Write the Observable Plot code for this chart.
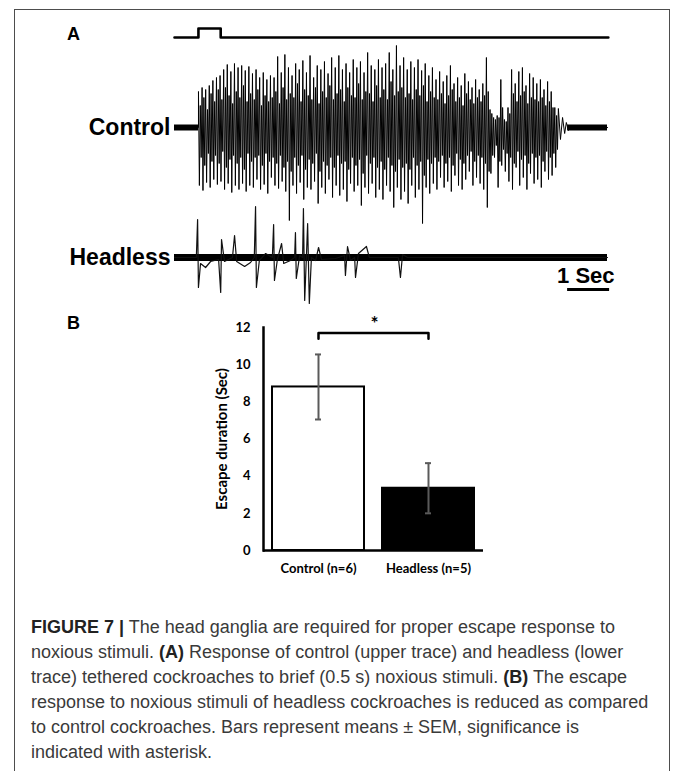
<!DOCTYPE html>
<html><head><meta charset="utf-8">
<script src="https://cdn.jsdelivr.net/npm/d3@7"></script>
<script src="https://cdn.jsdelivr.net/npm/@observablehq/plot@0.6"></script>
<style>
body{margin:0;background:#fff;}
#fig{position:relative;width:673px;height:771px;overflow:hidden;background:#fff;font-family:"Liberation Sans",Arial,sans-serif;}
#border{position:absolute;left:14px;top:9px;width:654px;height:800px;border:1px solid #4d4d4d;border-bottom:none;}
.panel{position:absolute;font-weight:bold;font-size:18px;line-height:18px;color:#000;}
#caption{position:absolute;left:31px;top:615px;font-size:18px;line-height:25px;color:#3a3a3a;white-space:nowrap;}
#caption b{color:#222;}
</style></head>
<body><div id="fig"><div id="border"></div>
<div class="panel" style="left:67px;top:25px;">A</div>
<div class="panel" style="left:67px;top:314px;">B</div>
<div id="caption">
<div><b>FIGURE 7 |</b> The head ganglia are required for proper escape response to</div>
<div>noxious stimuli. <b>(A)</b> Response of control (upper trace) and headless (lower</div>
<div>trace) tethered cockroaches to brief (0.5 s) noxious stimuli. <b>(B)</b> The escape</div>
<div>response to noxious stimuli of headless cockroaches is reduced as compared</div>
<div>to control cockroaches. Bars represent means ± SEM, significance is</div>
<div>indicated with asterisk.</div>
</div>
</div>
<script>
// ---------- Panel A data (time in seconds, amplitude in arbitrary units) ----------
const traceEnd = 10.31;
const stimTimes  = [0, 0.57, 0.57, 1.1, 1.1, 10.33];
const stimLevels = [0, 0, 1, 1, 0, 0];

const controlStart = 0.571;     // burst onset (s)
const spikeInterval = 0.0857;   // spacing between successive large spikes (s)
const controlTops = [36,40,38,42,47,50,52,58,63,56,64,60,62,57,61,54,58,50,55,48,
  52,50,71,55,73,60,52,64,58,67,55,72,50,62,58,66,54,70,60,72,
  58,64,55,68,60,66,55,75,62,58,68,60,64,75,58,82,62,70,58,66,
  60,68,57,64,52,60,48,56,46,52,62,44,50,42,54,46,40,48,38,44,
  70,18,10,12,48,8,20,58,44,56,60,42,54,50,44,48,38,46,36,20];
const controlTroughs = [-58,-63,-55,-60,-52,-57,-54,-62,-56,-65,-58,-62,-56,-64,-58,-60,-52,-62,-57,-66,
  -50,-58,-61,-54,-64,-93,-58,-66,-55,-72,-60,-62,-54,-76,-60,-66,-52,-70,-58,-68,
  -62,-74,-56,-64,-58,-78,-60,-66,-56,-70,-62,-72,-58,-64,-80,-60,-72,-64,-76,-58,
  -70,-62,-96,-60,-66,-56,-62,-50,-60,-54,-64,-48,-58,-62,-52,-44,-58,-50,-56,-62,
  -80,-46,-30,-60,-38,-44,-54,-62,-40,-58,-50,-62,-46,-56,-52,-60,-44,-52,-48,-40];
// smaller interleaved spikes between the large ones
const controlRebounds = [22,30,18,34,26,38,28,40,32,24,36,30,42,26,34,28,38,22,32,26,
  30,36,24,40,28,34,30,44,26,38,32,28,40,24,36,30,42,28,34,38,
  26,40,32,30,44,28,36,34,26,42,30,38,28,46,32,36,40,30,34,28,
  38,32,42,26,36,30,28,34,24,32,38,26,30,22,34,28,24,30,26,32,
  36,14,8,10,20,6,14,34,26,32,36,24,30,28,26,30,22,26,20,12];
const controlDips = [-30,-38,-26,-34,-28,-36,-24,-40,-32,-28,-36,-30,-42,-26,-34,-30,-28,-38,-26,-34,
  -30,-36,-28,-40,-34,-44,-30,-38,-28,-42,-32,-36,-26,-44,-34,-38,-30,-40,-28,-36,
  -34,-42,-30,-38,-32,-46,-28,-36,-30,-40,-34,-42,-30,-38,-44,-32,-40,-36,-42,-30,
  -38,-34,-48,-32,-36,-30,-34,-28,-36,-30,-38,-26,-32,-36,-28,-24,-34,-28,-30,-36,
  -44,-28,-18,-34,-22,-26,-30,-36,-24,-32,-28,-36,-26,-30,-28,-34,-24,-30,-26,-22];
const controlTailTimes  = [9.14, 9.19, 9.24, 9.29, 9.33, 9.38, 9.43, 10.31];
const controlTailValues = [19, -12, 10, -6, 5, -3, 0, 0];
const controlRest = [{start: 0, end: 0.571}, {start: 9.36, end: 10.31}];

const headlessTimes = [0,0.52,0.55,0.57,0.62,0.74,0.86,1.05,1.10,1.12,1.19,1.38,1.43,1.48,1.67,1.81,1.90,1.93,1.95,
  2.02,2.17,2.33,2.36,2.38,2.45,2.55,2.60,2.76,2.86,2.88,2.90,2.98,3.05,3.07,3.10,3.14,3.17,3.21,3.26,
  3.36,3.43,3.50,3.83,4.05,4.07,4.12,4.19,4.29,4.31,4.38,4.57,4.64,5.33,5.38,5.43,5.55,10.31];
const headlessValues = [0,0,38,-30,-6,-10,-4,-2,-35,18,-4,0,22,-4,-9,-5,0,51,-30,
  -3,4,0,33,-23,-2,14,-6,-3,0,25,-21,2,0,49,-43,0,34,-46,0,
  -3,10,-2,-1,2,-18,11,-3,0,-20,4,11,0,0,-20,3,0,0];
const scaleBarStart = 9.36, scaleBarSeconds = 1;

// ---------- Panel B data ----------
const groups = ["Control (n=6)", "Headless (n=5)"];
const means  = [8.8, 3.35];
const sems   = [1.75, 1.35];
const yTicks = [0, 2, 4, 6, 8, 10, 12];
const yLabel = "Escape duration (Sec)";
const sigMark = "*";

// ---------- build ----------
const fig = document.getElementById("fig");
const abs = (top) => ({position: "absolute", left: "0px", top: top + "px", overflow: "visible", background: "transparent", fontFamily: "'Liberation Sans', Arial, sans-serif"});
const xA = {domain: [0, traceEnd], axis: null};
const frameA = {width: 673, marginLeft: 174, marginRight: 66, marginTop: 0, marginBottom: 0};

const stim = stimTimes.map((t, i) => ({t, v: stimLevels[i]}));
fig.appendChild(Plot.plot({...frameA, height: 27, style: abs(19), x: xA, y: {domain: [-1, 2], axis: null},
  marks: [Plot.line(stim, {x: "t", y: "v", stroke: "black", strokeWidth: 2.6})]}));

const control = [{t: 0, v: 0}, {t: controlStart, v: 0}];
controlTops.forEach((top, i) => {
  const t0 = controlStart + i * spikeInterval;
  control.push({t: t0, v: top});
  control.push({t: t0 + 0.25 * spikeInterval, v: controlTroughs[i]});
  control.push({t: t0 + 0.5 * spikeInterval, v: controlRebounds[i]});
  control.push({t: t0 + 0.75 * spikeInterval, v: controlDips[i]});
});
controlTailTimes.forEach((t, i) => control.push({t, v: controlTailValues[i]}));
fig.appendChild(Plot.plot({...frameA, height: 200, style: abs(40), x: xA, y: {domain: [-113, 87], axis: null},
  marks: [
    Plot.ruleY(controlRest, {x1: "start", x2: "end", y: 0, stroke: "black", strokeWidth: 6}),
    Plot.line(control, {x: "t", y: "v", stroke: "#000", strokeWidth: 1}),
    Plot.text(["Control"], {x: 0, y: 0, text: d => d, textAnchor: "end", dx: -4, fontSize: 23, fontWeight: "bold", fill: "black"})
  ]}));

const headless = headlessTimes.map((t, i) => ({t, v: headlessValues[i]}));
fig.appendChild(Plot.plot({...frameA, height: 110, style: abs(200), x: xA, y: {domain: [-53, 57], axis: null},
  marks: [
    Plot.ruleY([{start: 0, end: traceEnd}], {x1: "start", x2: "end", y: 0, stroke: "black", strokeWidth: 7}),
    Plot.line(headless, {x: "t", y: "v", stroke: "#111", strokeWidth: 1.2}),
    Plot.text(["Headless"], {x: 0, y: 0, text: d => d, textAnchor: "end", dx: -4, fontSize: 23, fontWeight: "bold", fill: "black"}),
    Plot.ruleY([{start: scaleBarStart, end: scaleBarStart + scaleBarSeconds}], {x1: "start", x2: "end", y: -32, stroke: "black", strokeWidth: 3}),
    Plot.text(["1 Sec"], {x: scaleBarStart + scaleBarSeconds, y: -18, text: d => d, textAnchor: "end", dx: 5, fontSize: 22, fontWeight: "bold", fill: "black"})
  ]}));

const bars = groups.map((g, i) => ({group: g, mean: means[i], sem: sems[i]}));
const sigLevel = 11.7, sigDrop = 0.3;
const bracket = [
  {group: groups[0], y: sigLevel - sigDrop}, {group: groups[0], y: sigLevel},
  {group: groups[1], y: sigLevel}, {group: groups[1], y: sigLevel - sigDrop}];
fig.appendChild(Plot.plot({
  width: 673, height: 300, marginTop: 27, marginBottom: 50, marginLeft: 263, marginRight: 190,
  style: {...abs(300), fontFamily: "Lato, 'Liberation Sans', sans-serif"},
  x: {domain: groups, paddingInner: 0.16, paddingOuter: 0.08},
  y: {domain: [0, 12]},
  color: {domain: groups, range: ["white", "black"]},
  marks: [
    Plot.barY(bars, {x: "group", y: "mean", fill: "group", stroke: "black", strokeWidth: 2}),
    Plot.ruleX(bars, {x: "group", y1: d => d.mean - d.sem, y2: d => d.mean + d.sem, stroke: "#5a5a5a", strokeWidth: 2}),
    Plot.tickY(bars, {x: "group", y: d => d.mean + d.sem, stroke: "#5a5a5a", strokeWidth: 2, inset: 43}),
    Plot.tickY(bars, {x: "group", y: d => d.mean - d.sem, stroke: "#5a5a5a", strokeWidth: 2, inset: 43}),
    Plot.ruleY([0], {stroke: "black", strokeWidth: 2.5}),
    Plot.frame({anchor: "left", stroke: "black", strokeWidth: 2.5}),
    Plot.axisY({ticks: yTicks, tickSize: 0, tickPadding: 13, fontSize: 13, fontWeight: "bold", label: null, fill: "black"}),
    Plot.axisX({tickSize: 0, tickPadding: 13, fontSize: 13, fontWeight: "bold", label: null, fill: "black"}),
    Plot.text([yLabel], {frameAnchor: "left", textAnchor: "middle", text: d => d, rotate: -90, dx: -41, fontSize: 15, fontWeight: "bold", fill: "black"}),
    Plot.line(bracket, {x: "group", y: "y", stroke: "black", strokeWidth: 2.5}),
    Plot.text([{group: groups[0], y: sigLevel + 0.5}], {x: "group", y: "y", text: () => sigMark, dx: 56, fontSize: 19, fontWeight: "bold", fill: "black"})
  ]
}));
</script>
</body></html>
